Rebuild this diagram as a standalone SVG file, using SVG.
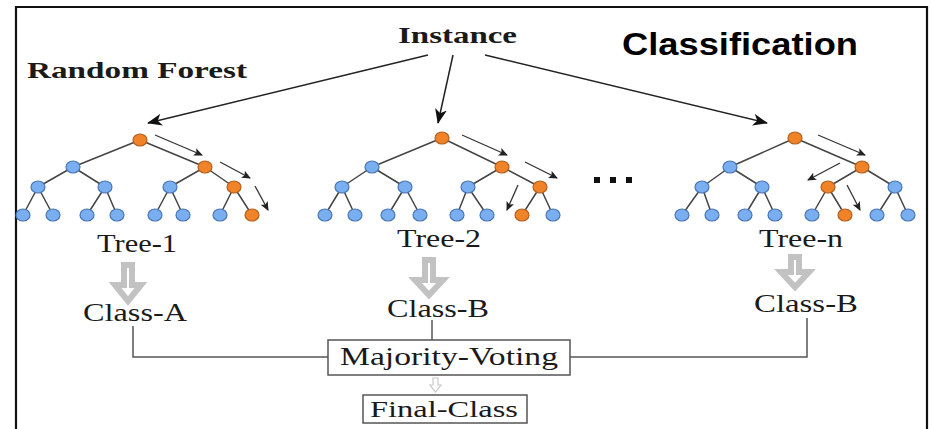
<svg xmlns="http://www.w3.org/2000/svg" width="932" height="429" viewBox="0 0 932 429">
  <style>
    .serif { font-family: "Liberation Serif", "Times New Roman", serif; fill: #1a1a1a; }
    .title { font-weight: bold; font-size: 24px; }
    .label { font-size: 25px; }
    .head { font-family: "Liberation Sans", Arial, sans-serif; font-weight: bold; font-size: 32px; fill: #000; }
    .edge { stroke: #444; stroke-width: 1.5; fill: none; }
    .blue { fill: #79aef0; stroke: #4a76b4; stroke-width: 1.2; }
    .orange { fill: #f08228; stroke: #b45f1e; stroke-width: 1.2; }
    .walk { stroke: #333; stroke-width: 1.3; fill: none; marker-end: url(#smallHead); }
    .feed { stroke: #222; stroke-width: 1.5; fill: none; marker-end: url(#bigHead); }
    .link { stroke: #555; stroke-width: 1.5; fill: none; }
    .block { fill: #fff; stroke: #c2c2c2; stroke-width: 6; stroke-linejoin: miter; }
    .box { fill: #fff; stroke: #555; stroke-width: 1.5; }
  </style>
  <defs>
    <marker id="bigHead" markerUnits="userSpaceOnUse" markerWidth="16" markerHeight="12" refX="14" refY="6" orient="auto">
      <path d="M0,0 L15,6 L0,12 L4,6 Z" fill="#111"/>
    </marker>
    <marker id="smallHead" markerUnits="userSpaceOnUse" markerWidth="9" markerHeight="8" refX="8" refY="4" orient="auto">
      <path d="M0,0 L9,4 L0,8 L2,4 Z" fill="#222"/>
    </marker>
  </defs>

  <!-- frame -->
  <path d="M16,429 V7 H927 V429" fill="none" stroke="#111" stroke-width="2.2"/>

  <!-- headings -->
  <g id="instance">
    <text class="serif title" x="398" y="43" textLength="119" lengthAdjust="spacingAndGlyphs">Instance</text>
  </g>
  <g id="random-forest">
    <text class="serif title" x="27" y="78" textLength="220" lengthAdjust="spacingAndGlyphs">Random Forest</text>
  </g>
  <g id="classification">
    <text class="head" x="622" y="55" textLength="236" lengthAdjust="spacingAndGlyphs">Classification</text>
  </g>

  <!-- connectors -->
  <g id="connectors">
    <line class="feed" x1="428" y1="55" x2="148" y2="123"/>
    <line class="feed" x1="453" y1="55" x2="438" y2="123"/>
    <line class="feed" x1="485" y1="55" x2="767" y2="123"/>
    <!-- decision paths inside trees -->
    <line class="walk" x1="155" y1="135" x2="202" y2="155"/>
    <line class="walk" x1="220" y1="162" x2="250" y2="178"/>
    <line class="walk" x1="255" y1="186" x2="268" y2="210"/>
    <line class="walk" x1="462" y1="135" x2="507" y2="155"/>
    <line class="walk" x1="525" y1="162" x2="557" y2="178"/>
    <line class="walk" x1="518" y1="185" x2="507" y2="210"/>
    <line class="walk" x1="818" y1="135" x2="865" y2="155"/>
    <line class="walk" x1="840" y1="163" x2="808" y2="180"/>
    <line class="walk" x1="847" y1="185" x2="860" y2="210"/>
    <!-- votes into majority box -->
    <path class="link" d="M133,326 V357 H328"/>
    <path class="link" d="M432,320 V340"/>
    <path class="link" d="M807,318 V357 H570"/>
  </g>

  <!-- Tree-1 -->
  <g id="tree-1">
    <g class="edge">
      <path d="M140,140 L73,167 M140,140 L205,167 M73,167 L38,187 M73,167 L105,187 M205,167 L170,187 M205,167 L234,187"/>
      <path d="M38,187 L23,215 M38,187 L53,215 M105,187 L87,215 M105,187 L117,215 M170,187 L155,215 M170,187 L183,215 M234,187 L220,215 M234,187 L252,215"/>
    </g>
    <ellipse class="orange" cx="140" cy="140" rx="7" ry="6"/>
    <ellipse class="blue" cx="73" cy="167" rx="7" ry="6"/>
    <ellipse class="orange" cx="205" cy="167" rx="7" ry="6"/>
    <ellipse class="blue" cx="38" cy="187" rx="7" ry="6"/>
    <ellipse class="blue" cx="105" cy="187" rx="7" ry="6"/>
    <ellipse class="blue" cx="170" cy="187" rx="7" ry="6"/>
    <ellipse class="orange" cx="234" cy="187" rx="7" ry="6"/>
    <ellipse class="blue" cx="23" cy="215" rx="7" ry="6"/>
    <ellipse class="blue" cx="53" cy="215" rx="7" ry="6"/>
    <ellipse class="blue" cx="87" cy="215" rx="7" ry="6"/>
    <ellipse class="blue" cx="117" cy="215" rx="7" ry="6"/>
    <ellipse class="blue" cx="155" cy="215" rx="7" ry="6"/>
    <ellipse class="blue" cx="183" cy="215" rx="7" ry="6"/>
    <ellipse class="blue" cx="220" cy="215" rx="7" ry="6"/>
    <ellipse class="orange" cx="252" cy="215" rx="7" ry="6"/>
    <text class="serif label" x="97" y="252" textLength="80" lengthAdjust="spacingAndGlyphs">Tree-1</text>
  </g>

  <!-- Tree-2 -->
  <g id="tree-2">
    <g class="edge">
      <path d="M442,138 L372,167 M442,138 L502,167 M372,167 L342,187 M372,167 L405,187 M502,167 L468,187 M502,167 L540,187"/>
      <path d="M342,187 L325,215 M342,187 L355,215 M405,187 L388,215 M405,187 L420,215 M468,187 L457,215 M468,187 L487,215 M540,187 L522,215 M540,187 L553,215"/>
    </g>
    <ellipse class="orange" cx="442" cy="138" rx="7" ry="6"/>
    <ellipse class="blue" cx="372" cy="167" rx="7" ry="6"/>
    <ellipse class="orange" cx="502" cy="167" rx="7" ry="6"/>
    <ellipse class="blue" cx="342" cy="187" rx="7" ry="6"/>
    <ellipse class="blue" cx="405" cy="187" rx="7" ry="6"/>
    <ellipse class="blue" cx="468" cy="187" rx="7" ry="6"/>
    <ellipse class="orange" cx="540" cy="187" rx="7" ry="6"/>
    <ellipse class="blue" cx="325" cy="215" rx="7" ry="6"/>
    <ellipse class="blue" cx="355" cy="215" rx="7" ry="6"/>
    <ellipse class="blue" cx="388" cy="215" rx="7" ry="6"/>
    <ellipse class="blue" cx="420" cy="215" rx="7" ry="6"/>
    <ellipse class="blue" cx="457" cy="215" rx="7" ry="6"/>
    <ellipse class="blue" cx="487" cy="215" rx="7" ry="6"/>
    <ellipse class="orange" cx="522" cy="215" rx="7" ry="6"/>
    <ellipse class="blue" cx="553" cy="215" rx="7" ry="6"/>
    <text class="serif label" x="397" y="247" textLength="84" lengthAdjust="spacingAndGlyphs">Tree-2</text>
  </g>

  <!-- ellipsis between trees -->
  <g id="ellipsis" fill="#111">
    <rect x="594" y="177" width="6" height="6"/>
    <rect x="610" y="177" width="6" height="6"/>
    <rect x="626" y="177" width="6" height="6"/>
  </g>

  <!-- Tree-n -->
  <g id="tree-n">
    <g class="edge">
      <path d="M795,138 L730,167 M795,138 L862,167 M730,167 L702,187 M730,167 L762,187 M862,167 L828,187 M862,167 L895,187"/>
      <path d="M702,187 L682,215 M702,187 L712,215 M762,187 L745,215 M762,187 L775,215 M828,187 L812,215 M828,187 L845,215 M895,187 L877,215 M895,187 L908,215"/>
    </g>
    <ellipse class="orange" cx="795" cy="138" rx="7" ry="6"/>
    <ellipse class="blue" cx="730" cy="167" rx="7" ry="6"/>
    <ellipse class="orange" cx="862" cy="167" rx="7" ry="6"/>
    <ellipse class="blue" cx="702" cy="187" rx="7" ry="6"/>
    <ellipse class="blue" cx="762" cy="187" rx="7" ry="6"/>
    <ellipse class="orange" cx="828" cy="187" rx="7" ry="6"/>
    <ellipse class="blue" cx="895" cy="187" rx="7" ry="6"/>
    <ellipse class="blue" cx="682" cy="215" rx="7" ry="6"/>
    <ellipse class="blue" cx="712" cy="215" rx="7" ry="6"/>
    <ellipse class="blue" cx="745" cy="215" rx="7" ry="6"/>
    <ellipse class="blue" cx="775" cy="215" rx="7" ry="6"/>
    <ellipse class="blue" cx="812" cy="215" rx="7" ry="6"/>
    <ellipse class="orange" cx="845" cy="215" rx="7" ry="6"/>
    <ellipse class="blue" cx="877" cy="215" rx="7" ry="6"/>
    <ellipse class="blue" cx="908" cy="215" rx="7" ry="6"/>
    <text class="serif label" x="759" y="247" textLength="84" lengthAdjust="spacingAndGlyphs">Tree-n</text>
  </g>

  <!-- per-tree votes -->
  <g id="vote-1">
    <path class="block" d="M124,265 H132 V285 H141 L128,301 L115,285 H124 Z"/>
    <text class="serif label" x="83" y="321" textLength="104" lengthAdjust="spacingAndGlyphs">Class-A</text>
  </g>
  <g id="vote-2">
    <path class="block" d="M425,260 H433 V280 H443 L429,295 L415,280 H425 Z"/>
    <text class="serif label" x="387" y="317" textLength="102" lengthAdjust="spacingAndGlyphs">Class-B</text>
  </g>
  <g id="vote-n">
    <path class="block" d="M791,257 H799 V272 H809 L795,287 L781,272 H791 Z"/>
    <text class="serif label" x="754" y="312" textLength="104" lengthAdjust="spacingAndGlyphs">Class-B</text>
  </g>

  <!-- aggregation -->
  <g id="majority-voting">
    <rect class="box" x="328" y="340" width="242" height="35"/>
    <text class="serif label" x="340" y="365" textLength="218" lengthAdjust="spacingAndGlyphs">Majority-Voting</text>
  </g>
  <path d="M433,378 H438 V385 H441 L435.5,392 L430,385 H433 Z" fill="#fff" stroke="#c8c8c8" stroke-width="1.2"/>
  <g id="final-class">
    <rect class="box" x="363" y="395" width="164" height="28"/>
    <text class="serif" font-size="23" x="370" y="417" textLength="148" lengthAdjust="spacingAndGlyphs">Final-Class</text>
  </g>
</svg>
